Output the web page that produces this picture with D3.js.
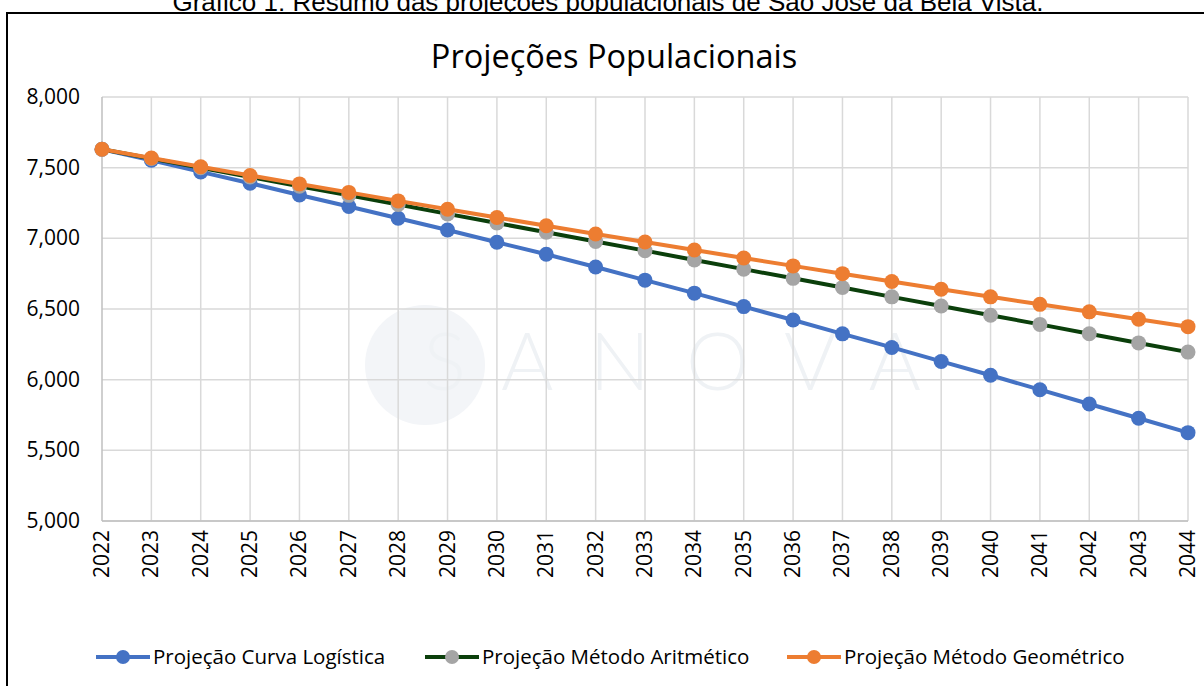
<!DOCTYPE html>
<html>
<head>
<meta charset="utf-8">
<script src="https://cdn.jsdelivr.net/npm/d3@7"></script>
<style>
  body { margin: 0; background: #fff; }
  svg { display: block; }
</style>
</head>
<body>
<svg id="chart" width="1204" height="686"></svg>
<script>
// anos da projeção
const years = d3.range(2022, 2045);
const yTicks = [5000, 5500, 6000, 6500, 7000, 7500, 8000];

// valores
const logistica = [7630, 7552, 7470, 7390, 7307, 7225, 7142, 7059, 6972, 6887, 6797, 6704,
                   6612, 6517, 6422, 6324, 6228, 6129, 6031, 5929, 5828, 5727, 5625];
const aritmetico = [7630, 7565, 7500, 7434, 7369, 7304, 7239, 7173, 7108, 7043, 6978, 6913,
                    6847, 6782, 6717, 6652, 6586, 6521, 6456, 6391, 6325, 6260, 6195];
const geometrico = [7630, 7568, 7506, 7445, 7385, 7325, 7265, 7206, 7147, 7089, 7031, 6974,
                    6917, 6861, 6805, 6750, 6695, 6640, 6586, 6533, 6480, 6427, 6375];

const series = [
  { name: "Projeção Curva Logística", values: logistica, line: "#4472C4", dot: "#4472C4" },
  { name: "Projeção Método Aritmético", values: aritmetico, line: "#0B3F0B", dot: "#A5A5A5" },
  { name: "Projeção Método Geométrico", values: geometrico, line: "#ED7D31", dot: "#ED7D31" }
];

const svg = d3.select("#chart");
const plotLeft = 102, plotRight = 1188, plotTop = 97, plotBottom = 521;
const font = "'Open Sans', sans-serif";

let x = d3.scaleLinear().domain([2022, 2044]).range([plotLeft, plotRight]);
let y = d3.scaleLinear().domain([5000, 8000]).range([plotBottom, plotTop]);

// caption (cortada no topo, como no original)
svg.append("text")
  .attr("x", 608).attr("y", 11)
  .attr("text-anchor", "middle")
  .style("font-family", "'Liberation Sans', Arial, sans-serif")
  .style("font-size", "26px")
  .attr("fill", "#000")
  .text("Gráfico 1: Resumo das projeções populacionais de São José da Bela Vista.");

// moldura
svg.append("rect")
  .attr("x", 7).attr("y", 13)
  .attr("width", 1210).attr("height", 690)
  .attr("fill", "#fff")
  .attr("stroke", "#000").attr("stroke-width", 2);

// marca d'água
const wm = svg.append("g");
wm.append("circle").attr("cx", 425).attr("cy", 365).attr("r", 60).attr("fill", "#F3F5F8");
wm.append("text")
  .attr("x", 690).attr("y", 390)
  .attr("text-anchor", "middle")
  .style("font-family", "Lato, sans-serif")
  .style("font-weight", 300)
  .style("font-size", "80px")
  .style("letter-spacing", "36px")
  .attr("fill", "#EFF2F5")
  .text("SANOVA");

// title
svg.append("text")
  .attr("x", 614).attr("y", 68)
  .attr("text-anchor", "middle")
  .style("font-family", font)
  .style("font-size", "32.5px")
  .attr("fill", "#000")
  .text("Projeções Populacionais");

// grade
svg.append("g")
  .selectAll("line")
  .data(yTicks)
  .enter()
  .append("line")
  .attr("x1", plotLeft).attr("x2", plotRight)
  .attr("y1", d => y(d)).attr("y2", d => y(d))
  .attr("stroke", "#D9D9D9").attr("stroke-width", 1.5);

svg.append("g")
  .selectAll("line")
  .data(years)
  .enter()
  .append("line")
  .attr("x1", d => x(d)).attr("x2", d => x(d))
  .attr("y1", plotTop).attr("y2", plotBottom)
  .attr("stroke", d => d === 2022 ? "#BFBFBF" : "#D9D9D9").attr("stroke-width", 1.5);

svg.append("line")
  .attr("x1", plotLeft).attr("x2", plotRight)
  .attr("y1", plotBottom).attr("y2", plotBottom)
  .attr("stroke", "#BFBFBF").attr("stroke-width", 1.5);

// eixo y
svg.append("g")
  .selectAll("text")
  .data(yTicks)
  .enter()
  .append("text")
  .attr("x", 80).attr("y", d => y(d) + 7)
  .attr("text-anchor", "end")
  .style("font-family", font)
  .style("font-size", "21px")
  .attr("fill", "#000")
  .text(d => d3.format(",")(d));

// eixo x (rotacionado)
svg.append("g")
  .selectAll("text")
  .data(years)
  .enter()
  .append("text")
  .attr("transform", d => `translate(${x(d) + 7},${plotBottom + 9}) rotate(-90)`)
  .attr("text-anchor", "end")
  .style("font-family", font)
  .style("font-size", "21px")
  .attr("fill", "#000")
  .text(d => d);

// séries
let line = d3.line().x((d, i) => x(years[i])).y(d => y(d));

series.forEach(s => {
  let g = svg.append("g");
  g.append("path")
    .attr("d", line(s.values))
    .attr("fill", "none")
    .attr("stroke", s.line)
    .attr("stroke-width", 4)
    .attr("stroke-linejoin", "round");
  g.selectAll("circle")
    .data(s.values)
    .enter()
    .append("circle")
    .attr("cx", (d, i) => x(years[i]))
    .attr("cy", d => y(d))
    .attr("r", 7.5)
    .attr("fill", s.dot);
});

// legenda
const legendX = [96, 425, 787];
series.forEach((s, i) => {
  let g = svg.append("g").attr("transform", `translate(${legendX[i]},657)`);
  g.append("line")
    .attr("x1", 0).attr("x2", 54)
    .attr("stroke", s.line).attr("stroke-width", 4);
  g.append("circle").attr("cx", 27).attr("r", 7).attr("fill", s.dot);
  g.append("text")
    .attr("x", 57).attr("y", 7)
    .style("font-family", font)
    .style("font-size", "20.5px")
    .attr("fill", "#000")
    .text(s.name);
});
</script>
</body>
</html>
